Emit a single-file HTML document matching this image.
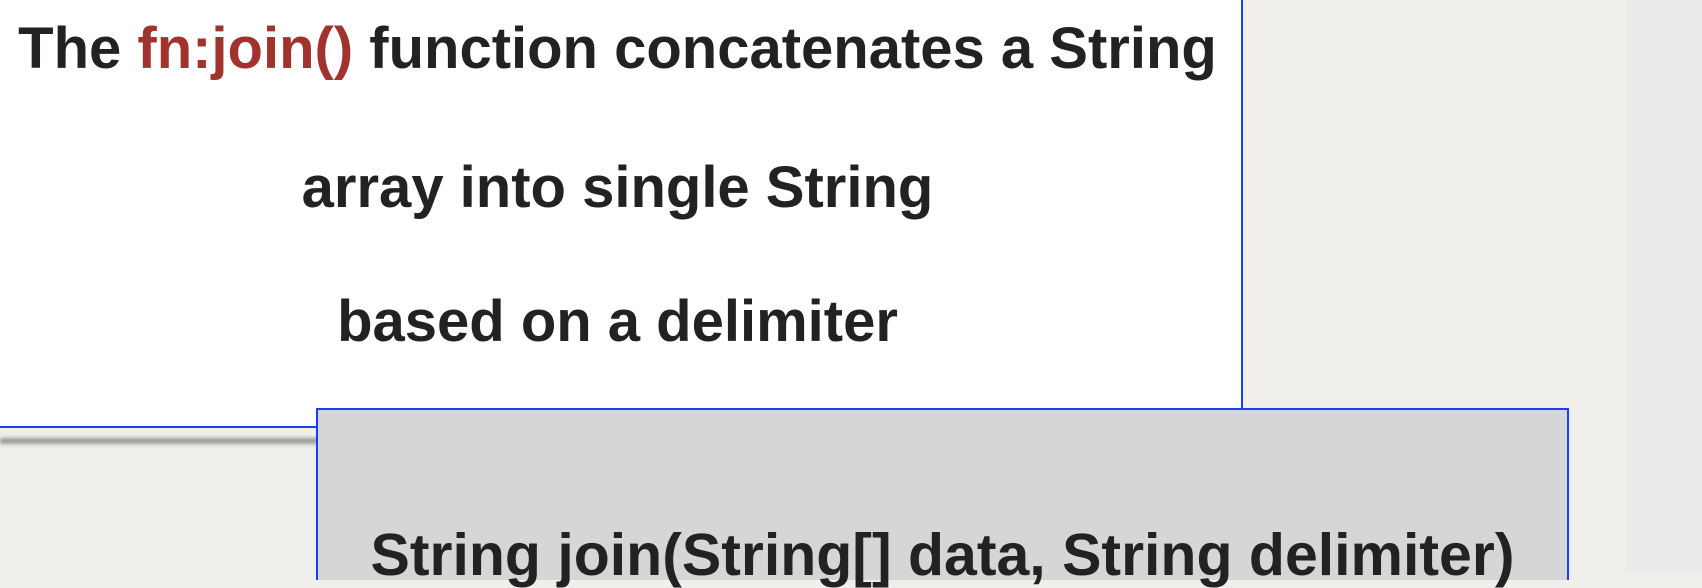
<!DOCTYPE html>
<html style="background:#f1efeb"><head><style>
body{margin:0;width:1702px;height:572px;overflow:hidden;background:#f1efeb;position:relative;font-family:"Liberation Sans",sans-serif;font-weight:bold;color:#222}
#strip{position:absolute;left:1626px;top:0;width:76px;height:572px;background:#ebebeb}
#white{position:absolute;left:-3px;top:-3px;width:1244px;height:429px;background:#fff;border-right:2px solid #1a3cff;border-bottom:2px solid #1a3cff}
#shadow{position:absolute;left:0;top:436px;width:320px;height:10px;background:linear-gradient(#f1efeb,#8a8884 50%,#f1efeb);filter:blur(1.5px)}
#gray{position:absolute;left:316px;top:408px;width:1249px;height:170px;background:#d6d6d6;border:2px solid #1a3cff;border-bottom:none}
.t{position:absolute;left:0;width:1241px;text-align:center;font-size:58px;line-height:60px;white-space:nowrap}
.r{color:#a0332d}
</style></head><body>
<div id="strip"></div>
<div id="shadow"></div>
<div id="white">
<div class="t" style="top:22px">The <span class="r">fn:join()</span> function concatenates a String</div>
<div class="t" style="top:161px">array into single String</div>
<div class="t" style="top:295px">based on a delimiter</div>
</div>
<div id="gray"><div class="t" style="width:1249px;top:115px;font-size:59px">String join(String[] data, String delimiter)</div></div>
</body></html>
